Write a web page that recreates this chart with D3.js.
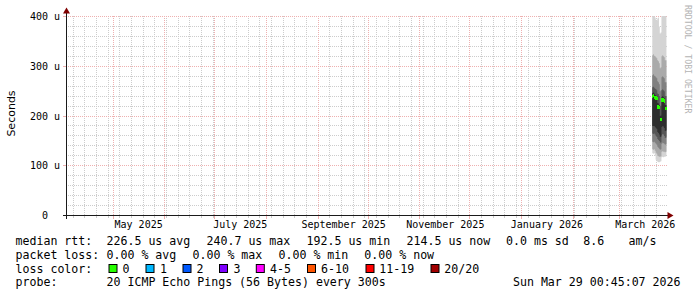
<!DOCTYPE html>
<html><head><meta charset="utf-8">
<script src="https://cdn.jsdelivr.net/npm/d3@7"></script>
<style>
body{margin:0;background:#fff}
svg{display:block}
text{font-family:"DejaVu Sans Mono",monospace;white-space:pre}
</style>
</head><body>
<svg id="c" width="697" height="297"></svg>
<script>
// ---------- data ----------
const endTime = "2026-03-29T00:45:07Z";
const spanDays = 360;
const yTicks = [0, 100, 200, 300, 400];
const yTickLabels = ["0  ", "100 u", "200 u", "300 u", "400 u"];
const yMinorTicks = [20,40,60,80,120,140,160,180,220,240,260,280,320,340,360,380];
const xLabelMonths = ["2025-05-01","2025-07-01","2025-09-01","2025-11-01","2026-01-01","2026-03-01"];
const xLabelTexts = ["May 2025","July 2025","September 2025","November 2025","January 2026","March 2026"];

const sampleTimes = [
  "2026-03-21T00:00Z","2026-03-21T12:00Z","2026-03-22T00:00Z","2026-03-22T12:00Z",
  "2026-03-23T00:00Z","2026-03-23T12:00Z","2026-03-24T00:00Z","2026-03-24T12:00Z",
  "2026-03-25T00:00Z","2026-03-25T12:00Z","2026-03-26T00:00Z","2026-03-26T12:00Z",
  "2026-03-27T00:00Z","2026-03-27T12:00Z","2026-03-28T00:00Z","2026-03-28T12:00Z",
  "2026-03-29T00:00Z"];
// median rtt in microseconds
const medianRtt = [240, 240.7, 238, 236, 236, 235, 218, 218, 217, 192.5, 193, 232, 233, 232, 230, 215, 214.5];
// loss count per sample (all 0 of 20)
const lossCount = [0,0,0,0,0,0,0,0,0,0,0,0,0,0,0,0,0];
// sorted ping values (us): band k spans values[k] .. values[9-k]
const smokeRtt = [
  [125,133,148,165,180,246,258,282,322,415],
  [124,132,147,164,180,247,259,284,324,420],
  [125,133,148,165,180,245,257,281,321,412],
  [120,130,146,163,178,242,255,280,320,398],
  [112,126,144,160,176,241,254,278,318,394],
  [110,124,142,158,174,240,252,276,316,392],
  [108,120,138,154,168,226,245,270,312,396],
  [107,119,136,152,166,225,244,268,310,398],
  [107,118,134,150,163,222,240,264,306,380],
  [108,118,132,146,158,200,220,250,296,366],
  [109,119,133,147,159,201,221,252,298,368],
  [117,128,144,162,178,238,252,278,320,412],
  [118,129,146,164,180,240,254,280,322,415],
  [117,128,145,163,179,238,252,278,320,410],
  [118,128,144,160,176,236,250,276,318,408],
  [118,127,142,156,170,222,240,268,312,404],
  [119,128,143,157,171,222,240,268,312,402]];

const lossLabels = ["0","1","2","3","4-5","6-10","11-19","20/20"];
const lossColors = ["#26ff00","#00b8ff","#0059ff","#7e00ff","#ff00ff","#ff5500","#ff0000","#a10000"];
const lossUpper = [0,1,2,3,5,10,19,20];
const rttStats = ["226.5 us avg","240.7 us max","192.5 us min","214.5 us now","0.0 ms sd","8.6","am/s"];
const lossStats = ["0.00 % avg","0.00 % max","0.00 % min","0.00 % now"];
const probeText = "20 ICMP Echo Pings (56 Bytes) every 300s";
const stampText = "Sun Mar 29 00:45:07 2026";
const watermark = "RRDTOOL / TOBI OETIKER";

// ---------- layout ----------
const X0 = 66.5, X1 = 666.5, Y0 = 215.5, Y1 = 16.5;
const svg = d3.select("#c");
svg.append("rect").attr("width",697).attr("height",297).attr("fill","#fff");

const tEnd = new Date(endTime);
const tStart = d3.utcDay.offset(tEnd, -spanDays);
const x = d3.scaleUtc().domain([tStart, tEnd]).range([X0, X1]);
const y = d3.scaleLinear().domain([0, 400]).range([Y0, Y1]);

const gridCol = "#cccccc";
const mgridCol = "#eeb0b0";
const pxi = v => Math.round(v - 0.5);   // integer pixel index

// dotted-line patterns (1 on, 1 off)
const defs = svg.append("defs");
function dotPattern(id, col, horiz) {
  const p = defs.append("pattern").attr("id", id).attr("patternUnits","userSpaceOnUse")
    .attr("width", horiz ? 2 : 1).attr("height", horiz ? 1 : 2);
  p.append("rect").attr("width",1).attr("height",1).attr("fill",col);
}
dotPattern("hmin", gridCol, true);
dotPattern("vmin", gridCol, false);
dotPattern("hmaj", mgridCol, true);
dotPattern("vmaj", mgridCol, false);

// ---------- grid (under the data) ----------
const g = svg.append("g").attr("shape-rendering","crispEdges");
const minorX = x.ticks(d3.utcMonday.every(1));
const majorX = x.ticks(d3.utcMonth.every(1));
function vlines(data, pat) {
  g.append("g").selectAll("rect").data(data).join("rect")
    .attr("x", d => pxi(x(d))).attr("y", 16).attr("width", 1).attr("height", 199)
    .attr("fill", `url(#${pat})`);
}
function hlines(data, pat) {
  g.append("g").selectAll("rect").data(data).join("rect")
    .attr("x", 67).attr("y", d => pxi(y(d))).attr("width", 600).attr("height", 1)
    .attr("fill", `url(#${pat})`);
}
vlines(minorX, "vmin");
hlines(yMinorTicks, "hmin");
vlines(majorX, "vmaj");
hlines(yTicks.slice(1), "hmaj");
// small ticks outside the plot
g.append("g").selectAll("rect").data(minorX).join("rect")
  .attr("x", d => pxi(x(d))).attr("y", 216).attr("width",1).attr("height",2).attr("fill", gridCol);
g.append("g").selectAll("rect").data(majorX).join("rect")
  .attr("x", d => pxi(x(d))).attr("y", 216).attr("width",1).attr("height",3).attr("fill", mgridCol);
g.append("g").selectAll("rect").data(yTicks).join("rect")
  .attr("x", 63).attr("y", d => pxi(y(d))).attr("width",3).attr("height",1).attr("fill", mgridCol);

// ---------- smoke ----------
svg.append("clipPath").attr("id","pc").append("rect")
  .attr("x",X0).attr("y",Y1-0.5).attr("width",X1-X0+0.5).attr("height",Y0-Y1+0.5);
const shades = [212, 170, 128, 86, 46].map(v => d3.rgb(v,v,v).formatHex());
const pts = sampleTimes.map((s,i) => ({t: new Date(s), m: medianRtt[i], p: smokeRtt[i], l: lossCount[i]}));
// each sample covers the interval ending at its timestamp
const steps = pts.flatMap(d => [
  {x: x(d3.utcHour.offset(d.t,-12)), d},
  {x: x(d.t), d}]);
const plot = svg.append("g").attr("clip-path","url(#pc)");
shades.forEach((c,k) => {
  const area = d3.area().x(s => s.x).y0(s => y(s.d.p[k])).y1(s => y(s.d.p[9-k]));
  plot.append("path").attr("d", area(steps)).attr("fill", c);
});
// median markers
plot.append("g").attr("shape-rendering","crispEdges").selectAll("rect").data(pts).join("rect")
  .attr("x", d => x(d3.utcHour.offset(d.t,-12)))
  .attr("width", d => x(d.t) - x(d3.utcHour.offset(d.t,-12)) + 0.3)
  .attr("y", d => y(d.m + 3.2))
  .attr("height", d => y(d.m - 3.2) - y(d.m + 3.2))
  .attr("fill", d => lossColors[lossUpper.findIndex(u => d.l <= u)]);

// ---------- axes ----------
const ax = svg.append("g").attr("shape-rendering","crispEdges");
ax.append("line").attr("x1",X0-4).attr("x2",X1+4).attr("y1",Y0).attr("y2",Y0).attr("stroke","#1a1a1a");
ax.append("line").attr("x1",X0).attr("x2",X0).attr("y1",Y0+3).attr("y2",Y1-5).attr("stroke","#1a1a1a");
svg.append("path").attr("d",`M${X1+1},${Y0-3.5}L${X1+1},${Y0+3.5}L${X1+7},${Y0}Z`).attr("fill","#800000");
svg.append("path").attr("d",`M${X0-3.5},${Y1-3}L${X0+3.5},${Y1-3}L${X0},${Y1-9}Z`).attr("fill","#800000");

// y labels
svg.append("g").selectAll("text").data(yTicks).join("text")
  .attr("x", 60).attr("y", d => y(d) + 3.5)
  .attr("text-anchor","end").attr("font-size","10px").attr("fill","#000")
  .text((d,i) => yTickLabels[i]);

// x labels via axis
const xa = d3.axisBottom(x)
  .tickValues(xLabelMonths.map(s => d3.utcDay.offset(new Date(s+"T00:00Z"), 15)))
  .tickFormat((d,i) => xLabelTexts[i]).tickSize(0).tickPadding(0);
const xg = svg.append("g").attr("transform", `translate(0,${Y0})`).call(xa);
xg.select(".domain").remove();
xg.selectAll("text").attr("font-family","DejaVu Sans Mono").attr("font-size","10px")
  .attr("fill","#000").attr("dy",null).attr("y",12.5);

// y title
svg.append("text").attr("transform","translate(15,113.5) rotate(-90)")
  .attr("text-anchor","middle").style("font-family","'DejaVu Sans'").attr("font-size","11px")
  .attr("fill","#000").text("Seconds");

// watermark
svg.append("text").attr("transform","translate(685,5) rotate(90)")
  .attr("font-size","8.2px").attr("fill","#b4b4b4").text(watermark);

// ---------- legend ----------
const L = svg.append("g").attr("font-size","11.6px").attr("fill","#000");
const rows = [245, 258.8, 272.6, 286.4];
L.append("text").attr("x",15.5).attr("y",rows[0]).text("median rtt:");
const rttX = [106.5, 206.5, 306.5, 406.5, 506, 583.3, 628.6];
L.selectAll(".r1").data(rttStats).join("text").attr("x",(d,i)=>rttX[i]).attr("y",rows[0]).text(d=>d);
L.append("text").attr("x",15.5).attr("y",rows[1]).text("packet loss:");
const lossX = [106.5, 192.5, 278.5, 364.3];
L.selectAll(".r2").data(lossStats).join("text").attr("x",(d,i)=>lossX[i]).attr("y",rows[1]).text(d=>d);
L.append("text").attr("x",15.5).attr("y",rows[2]).text("loss color:");
const swX = [108.5, 145.5, 182.5, 219, 255.8, 307, 365.5, 430.5];
const lcX = [122.6, 160, 196.6, 233.6, 270, 321, 379.3, 444.3];
L.selectAll(".sw").data(lossColors).join("rect")
  .attr("x",(d,i)=>swX[i]+0.5).attr("y",264.5).attr("width",8).attr("height",8)
  .attr("fill",d=>d).attr("stroke","#000").attr("stroke-width",1);
L.selectAll(".lc").data(lossLabels).join("text").attr("x",(d,i)=>lcX[i]).attr("y",rows[2]).text(d=>d);
L.append("text").attr("x",15.5).attr("y",rows[3]).text("probe:");
L.append("text").attr("x",106.5).attr("y",rows[3]).text(probeText);
L.append("text").attr("x",680.5).attr("y",rows[3]).attr("text-anchor","end").text(stampText);
</script>
</body></html>
